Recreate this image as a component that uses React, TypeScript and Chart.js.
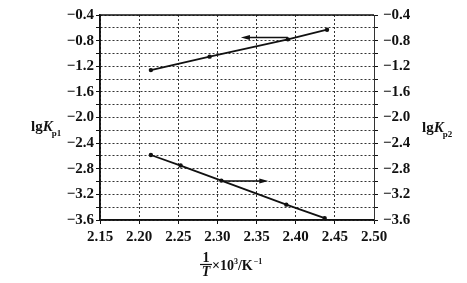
import React, { useEffect, useRef } from "react";
import { Chart, registerables } from "chart.js";

Chart.register(...registerables);

const xTicks = [2.15, 2.2, 2.25, 2.3, 2.35, 2.4, 2.45, 2.5];
const yTicks = [-3.6, -3.4, -3.2, -3.0, -2.8, -2.6, -2.4, -2.2, -2.0, -1.8, -1.6, -1.4, -1.2, -1.0, -0.8, -0.6, -0.4];
const yLabelValues = [-3.6, -3.2, -2.8, -2.4, -2.0, -1.6, -1.2, -0.8, -0.4];

const kp1X = [2.215, 2.29, 2.39, 2.44];
const kp1Y = [-1.26, -1.05, -0.78, -0.63];
const kp2X = [2.215, 2.253, 2.305, 2.388, 2.437];
const kp2Y = [-2.585, -2.75, -2.985, -3.36, -3.57];

// arrows: [xFrom, xTo, y]
const arrow1 = [2.39, 2.33, -0.75];
const arrow2 = [2.307, 2.365, -2.99];

const FONT = "'Liberation Serif', 'DejaVu Serif', serif";

const fmtY = (v: number) => {
  const ok = yLabelValues.some((t) => Math.abs(t - v) < 1e-6);
  return ok ? "\u2212" + Math.abs(v).toFixed(1) : "";
};

const decoPlugin = {
  id: "deco",
  afterDraw(chart: any) {
    const ctx = chart.ctx;
    const a = chart.chartArea;
    const xs = chart.scales.x;
    const ys = chart.scales.y;
    ctx.save();
    // frame
    ctx.strokeStyle = "#111";
    ctx.lineWidth = 1.5;
    ctx.beginPath();
    ctx.moveTo(a.left, a.top);
    ctx.lineTo(a.right, a.top);
    ctx.moveTo(a.left, a.bottom);
    ctx.lineTo(a.right, a.bottom);
    ctx.moveTo(a.left, a.top);
    ctx.lineTo(a.left, a.bottom);
    ctx.stroke();

    // arrows
    const drawArrow = (arr: number[]) => {
      const x0 = xs.getPixelForValue(arr[0]);
      const x1 = xs.getPixelForValue(arr[1]);
      const y = ys.getPixelForValue(arr[2]);
      const dir = x1 > x0 ? 1 : -1;
      ctx.strokeStyle = "#111";
      ctx.fillStyle = "#111";
      ctx.lineWidth = 1.5;
      ctx.beginPath();
      ctx.moveTo(x0, y);
      ctx.lineTo(x1 - dir * 6, y);
      ctx.stroke();
      ctx.beginPath();
      ctx.moveTo(x1, y);
      ctx.lineTo(x1 - dir * 9, y - 2.5);
      ctx.lineTo(x1 - dir * 9, y + 2.5);
      ctx.closePath();
      ctx.fill();
    };
    drawArrow(arrow1);
    drawArrow(arrow2);

    // titles
    ctx.fillStyle = "#111";
    ctx.textBaseline = "alphabetic";
    ctx.textAlign = "left";
    const yTitle = (x: number, y: number, sub: string) => {
      ctx.font = "bold 15px " + FONT;
      ctx.fillText("lg", x, y);
      const w1 = ctx.measureText("lg").width;
      ctx.font = "italic bold 15px " + FONT;
      ctx.fillText("K", x + w1, y);
      const w2 = ctx.measureText("K").width;
      ctx.font = "bold 9px " + FONT;
      ctx.fillText(sub, x + w1 + w2 - 1, y + 5);
    };
    yTitle(31, 131, "p1");
    yTitle(422, 132, "p2");

    // x title
    ctx.font = "bold 14px " + FONT;
    ctx.textAlign = "center";
    ctx.fillText("1", 206, 262);
    ctx.lineWidth = 1.2;
    ctx.beginPath();
    ctx.moveTo(200, 264.5);
    ctx.lineTo(212, 264.5);
    ctx.stroke();
    ctx.font = "italic bold 14px " + FONT;
    ctx.fillText("T", 206, 276);
    ctx.textAlign = "left";
    ctx.font = "bold 14px " + FONT;
    ctx.fillText("\u00d710", 212, 270);
    let w = ctx.measureText("\u00d710").width;
    ctx.font = "bold 8px " + FONT;
    ctx.fillText("3", 212 + w, 264);
    w += ctx.measureText("3").width;
    ctx.font = "bold 14px " + FONT;
    ctx.fillText("/K", 212 + w, 270);
    w += ctx.measureText("/K").width;
    ctx.font = "bold 8px " + FONT;
    ctx.fillText("\u22121", 212 + w + 1, 264);
    ctx.restore();
  },
};

export default function App() {
  const ref = useRef<HTMLCanvasElement | null>(null);
  useEffect(() => {
    document.body.style.margin = "0";
    const canvas = ref.current!;
    const gridCommon = {
      color: "#333",
      lineWidth: 1,
      tickLength: 4,
      tickColor: "#111",
      drawTicks: true,
    };
    const chart = new Chart(canvas, {
      type: "scatter",
      data: {
        datasets: [
          {
            data: kp1X.map((x, i) => ({ x, y: kp1Y[i] })),
            showLine: true,
            borderColor: "#111",
            backgroundColor: "#111",
            borderWidth: 1.8,
            pointRadius: 1.3,
            yAxisID: "y",
          },
          {
            data: kp2X.map((x, i) => ({ x, y: kp2Y[i] })),
            showLine: true,
            borderColor: "#111",
            backgroundColor: "#111",
            borderWidth: 1.8,
            pointRadius: 1.3,
            yAxisID: "y",
          },
        ],
      },
      options: {
        responsive: false,
        animation: false,
        layout: { padding: { top: 15, left: 0, right: 0, bottom: 0 } },
        plugins: { legend: { display: false }, tooltip: { enabled: false } },
        scales: {
          x: {
            type: "linear",
            min: 2.15,
            max: 2.5,
            afterBuildTicks: (s: any) => {
              s.ticks = xTicks.map((v) => ({ value: v }));
            },
            afterFit: (s: any) => {
              s.height = 63;
            },
            ticks: {
              callback: (v: any) => Number(v).toFixed(2),
              font: { family: FONT, size: 15, weight: "bold" },
              color: "#111",
              padding: 4,
              maxRotation: 0,
              autoSkip: false,
            },
            grid: { ...gridCommon },
            border: { display: true, color: "#111", width: 1.5, dash: [2, 2] },
          },
          y: {
            type: "linear",
            position: "left",
            min: -3.6,
            max: -0.4,
            afterBuildTicks: (s: any) => {
              s.ticks = yTicks.map((v) => ({ value: v }));
            },
            afterFit: (s: any) => {
              s.width = 100;
            },
            ticks: {
              callback: (v: any) => fmtY(Number(v)),
              font: { family: FONT, size: 15, weight: "bold" },
              color: "#111",
              padding: 2,
              autoSkip: false,
            },
            grid: { ...gridCommon },
            border: { display: true, color: "#111", width: 1.5, dash: [2, 2] },
          },
          y2: {
            type: "linear",
            position: "right",
            min: -3.6,
            max: -0.4,
            afterBuildTicks: (s: any) => {
              s.ticks = yTicks.map((v) => ({ value: v }));
            },
            afterFit: (s: any) => {
              s.width = 93;
            },
            ticks: {
              callback: (v: any) => fmtY(Number(v)),
              font: { family: FONT, size: 15, weight: "bold" },
              color: "#111",
              padding: 5,
              autoSkip: false,
            },
            grid: { drawOnChartArea: false, tickLength: 4, tickColor: "#111" },
            border: { display: true, color: "#333", width: 1, dash: [2, 2] },
          },
        },
      } as any,
      plugins: [decoPlugin],
    });
    return () => chart.destroy();
  }, []);
  return (
    <div style={{ position: "absolute", left: 0, top: 0, width: 467, height: 283 }}>
      <canvas ref={ref} width={467} height={283} />
    </div>
  );
}
